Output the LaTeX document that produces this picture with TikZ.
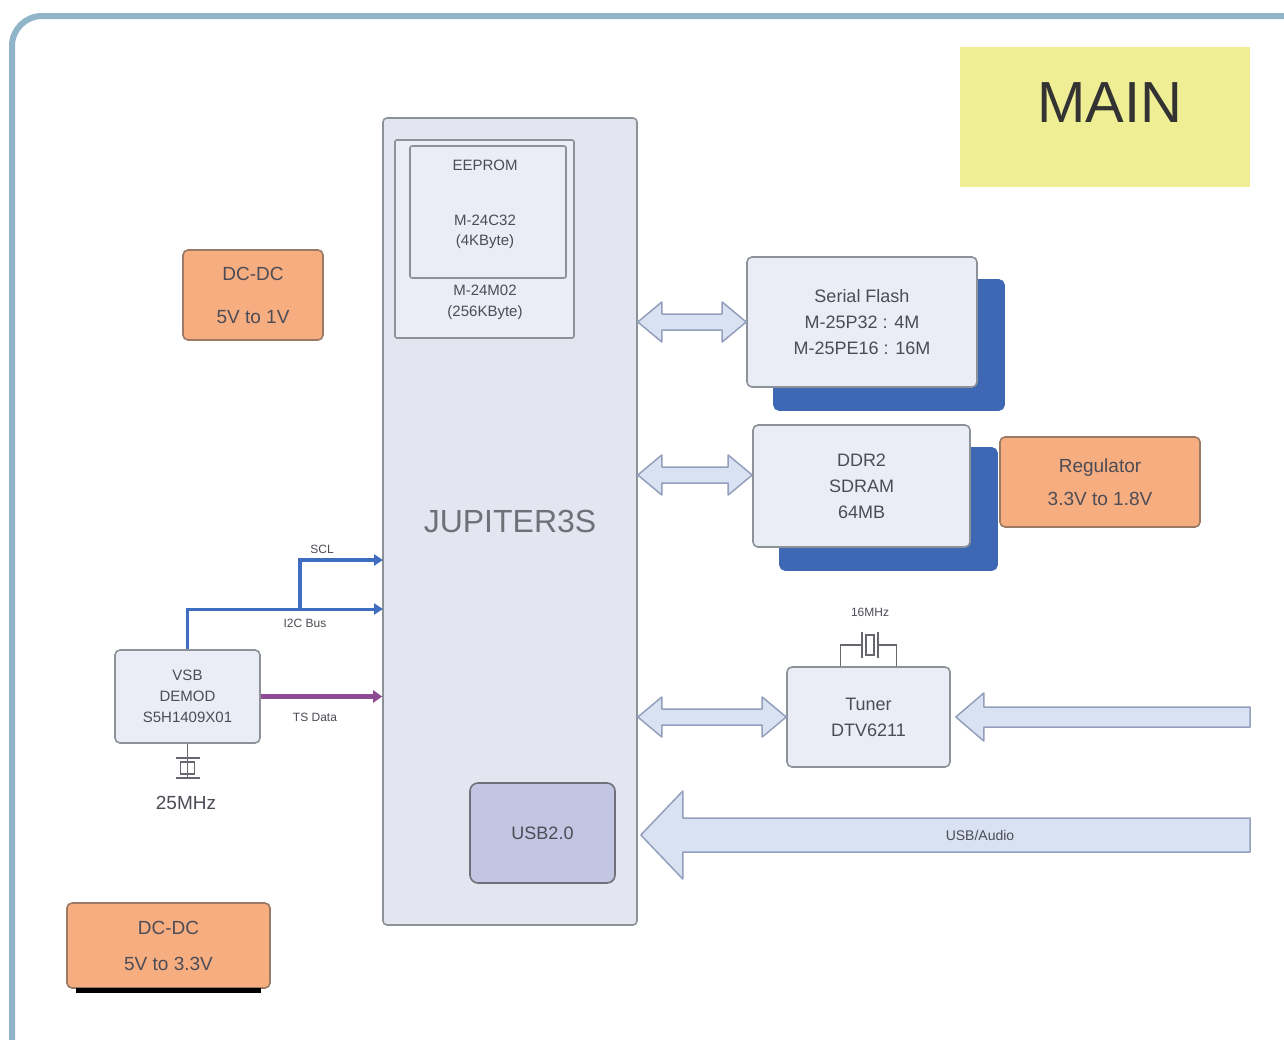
\documentclass[tikz,border=0pt]{standalone}
\usepackage{fontspec}
\setmainfont{Liberation Sans}
\usepackage{xcolor}
\definecolor{frame}{HTML}{90B4C8}
\definecolor{chipfill}{HTML}{E3E6F1}
\definecolor{chipline}{HTML}{8C9298}
\definecolor{boxfill}{HTML}{EAECF6}
\definecolor{shade}{HTML}{3E68B4}
\definecolor{pwrfill}{HTML}{F6AD80}
\definecolor{pwrline}{HTML}{9A7A64}
\definecolor{mainfill}{HTML}{F0EE94}
\definecolor{busblue}{HTML}{3F6EC0}
\definecolor{tsviolet}{HTML}{8E4A92}
\definecolor{fatfill}{HTML}{D9E2F2}
\definecolor{fatline}{HTML}{949FBE}
\definecolor{usbfill}{HTML}{C3C6E2}
\definecolor{ink}{HTML}{4C4C56}
\usepackage{tikz}
\usetikzlibrary{arrows.meta,calc,shadows}

\newcommand{\fatboth}[2]{%
  \draw[fatarr] let \p1=#1, \p2=#2 in
    (\p1) -- (\x1+24pt,\y1+20pt) -- (\x1+24pt,\y1+8pt) -- (\x2-24pt,\y1+8pt)
    -- (\x2-24pt,\y1+20pt) -- (\x2,\y1) -- (\x2-24pt,\y1-20pt) -- (\x2-24pt,\y1-8pt)
    -- (\x1+24pt,\y1-8pt) -- (\x1+24pt,\y1-20pt) -- cycle;}
\newcommand{\fatleft}[5]{%
  \draw[fatarr] let \p1=#1, \p2=#2 in
    (\p1) -- (\x1+#5,\y1+#4) -- (\x1+#5,\y1+#3) -- (\x2,\y1+#3) -- (\x2,\y1-#3)
    -- (\x1+#5,\y1-#3) -- (\x1+#5,\y1-#4) -- cycle;}

\begin{document}
\begin{tikzpicture}[x=1pt, y=-1pt, font=\fontsize{18}{26}\selectfont, text=ink,
  chip/.style={draw=chipline, line width=1.6pt, fill=chipfill, rounded corners=4pt, inner sep=0pt},
  part/.style={draw=chipline, line width=1.6pt, fill=boxfill, rounded corners=5pt, align=center, inner sep=0pt},
  memory/.style={part, copy shadow={shadow xshift=27pt, shadow yshift=-23pt, fill=shade, draw=shade}},
  power/.style={draw=pwrline, line width=1.6pt, fill=pwrfill, rounded corners=5pt, align=center, inner sep=0pt},
  bus/.style={draw=busblue, line width=3pt, -{Triangle[length=9pt,width=11pt]}},
  ts/.style={draw=tsviolet, line width=5pt, -{Triangle[length=9pt,width=12pt]}},
  fatarr/.style={draw=fatline, line width=1.5pt, fill=fatfill, line join=round},
  lbl/.style={font=\fontsize{12}{14}\selectfont, text=ink},
  lead/.style={draw=ink!85, line width=1.5pt}]
\useasboundingbox (0,0) rectangle (1284,1039);
\fill[white] (0,0) rectangle (1284,1039);
\draw[frame, line width=6pt, rounded corners=30pt] (12,16) rectangle (1320,1080);

\node[fill=mainfill, minimum width=290pt, minimum height=140pt] (main) at (1105,117) {};
\node[font=\fontsize{58}{58}\selectfont, text=black!80] (maintxt) at (1110,103) {MAIN};

\node[chip, minimum width=254pt, minimum height=807pt,
      font=\fontsize{32}{32}\selectfont, text=ink!80] (jup) at (510,521.5) {JUPITER3S};
\node[part, rounded corners=2pt, minimum width=179pt, minimum height=198pt] (eep) at (484.5,239) {};
\node[part, rounded corners=2pt, minimum width=156pt, minimum height=132pt] (eepin) at (488,212) {};
\node[font=\fontsize{15}{20}\selectfont] (eephead) at (485,165) {EEPROM};
\node[font=\fontsize{15}{20}\selectfont, align=center] (eepa) at (485,232) {M-24C32\\(4KByte)};
\node[font=\fontsize{15}{20}\selectfont] (eepb) at (485,290) {M-24M02};
\node[font=\fontsize{15}{20}\selectfont] (eepc) at (485,313) {(256KByte)};
\node[draw=ink!80, line width=1.6pt, fill=usbfill, rounded corners=8pt,
      minimum width=145pt, minimum height=100pt] (usb) at (542.5,833) {USB2.0};

\node[memory, minimum width=230pt, minimum height=130pt] (flash) at (862,322)
  {Serial Flash\\M-25P32 : 4M\\M-25PE16 : 16M};
\node[memory, minimum width=217pt, minimum height=122pt] (ddr) at (861.5,486)
  {DDR2\\SDRAM\\64MB};
\node[power, font=\fontsize{19}{33}\selectfont, minimum width=200pt, minimum height=90pt] (reg) at (1100,482)
  {Regulator\\3.3V to 1.8V};
\node[power, font=\fontsize{19}{23}\selectfont, minimum width=140pt, minimum height=90pt] (dctop) at (253,295)
  {DC-DC\\[20pt]5V to 1V};
\node[power, font=\fontsize{19}{23}\selectfont, minimum width=203pt, minimum height=85pt] (dcbot) at (168.5,945.5)
  {DC-DC\\[13pt]5V to 3.3V};
\draw[line width=5pt] ([xshift=10pt,yshift=-2pt]dcbot.south west) -- ([xshift=-10pt,yshift=-2pt]dcbot.south east);

\node[part, minimum width=163pt, minimum height=100pt] (tuner) at (868.5,717) {Tuner\\DTV6211};
\node[part, font=\fontsize{15}{21}\selectfont, minimum width=145pt, minimum height=93pt] (demod) at (187.5,696.5)
  {VSB\\DEMOD\\S5H1409X01};

\coordinate (xtal) at (870,645);
\draw[lead] ([xshift=-8pt,yshift=-13pt]xtal) -- ([xshift=-8pt,yshift=13pt]xtal);
\draw[lead] ([xshift=8pt,yshift=-13pt]xtal) -- ([xshift=8pt,yshift=13pt]xtal);
\draw[lead, fill=white] ([xshift=-4pt,yshift=-10pt]xtal) rectangle ([xshift=4pt,yshift=10pt]xtal);
\draw[lead] ([xshift=-28pt]tuner.north) |- ([xshift=-8pt]xtal);
\draw[lead] ([xshift=28pt]tuner.north) |- ([xshift=8pt]xtal);
\node[lbl] (xtallbl) at (870,612) {16MHz};

\coordinate (dxtal) at (187.5,768);
\draw[lead] ([xshift=-12pt,yshift=-10pt]dxtal) -- ([xshift=12pt,yshift=-10pt]dxtal);
\draw[lead] ([xshift=-12pt,yshift=10pt]dxtal) -- ([xshift=12pt,yshift=10pt]dxtal);
\draw[lead, fill=white] ([xshift=-7pt,yshift=-6pt]dxtal) rectangle ([xshift=7pt,yshift=6pt]dxtal);
\draw[lead] (demod.south) -- ([yshift=-10pt]dxtal);
\draw[lead] ([yshift=10pt]dxtal) -- ++(0,6);
\node[font=\fontsize{19}{20}\selectfont] (dxtallbl) at (186,803) {25MHz};

\coordinate (sdain) at (383,609);
\coordinate (sclfork) at (300,609);
\coordinate (sclin) at (383,560);
\draw[bus] (demod.north) |- (sdain);
\draw[bus, line width=4pt] (sclfork) |- (sclin);
\draw[ts] (demod.east) -- (demod.east -| jup.west);
\node[lbl] (scllbl) at (322,549) {SCL};
\node[lbl] (sdalbl) at (305,623) {I2C Bus};
\node[lbl] (tslbl) at (315,717) {TS Data};

\coordinate (ddrport) at ([yshift=11pt]ddr.west);
\coordinate (tunerfeed) at (1250,717);
\coordinate (usbfeed) at (1250,835);
\fatboth{(jup.east |- flash.west)}{(flash.west)}
\fatboth{(jup.east |- ddrport)}{(ddrport)}
\fatboth{(jup.east |- tuner.west)}{(tuner.west)}
\fatleft{([xshift=5pt]tuner.east)}{(tunerfeed)}{10pt}{24pt}{28pt}
\fatleft{([xshift=3pt]jup.east |- usbfeed)}{(usbfeed)}{17pt}{44pt}{42pt}
\node[lbl, font=\fontsize{14}{16}\selectfont] (usblbl) at (980,835) {USB/Audio};
\end{tikzpicture}
\end{document}
